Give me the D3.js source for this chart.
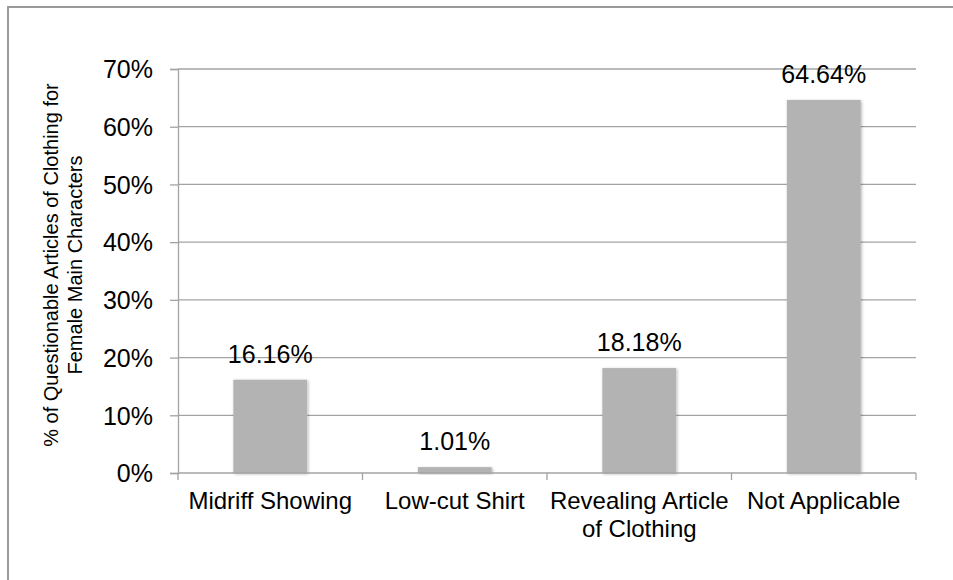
<!DOCTYPE html>
<html>
<head>
<meta charset="utf-8">
<script src="https://cdn.jsdelivr.net/npm/d3@7"></script>
<style>
  html, body { margin: 0; padding: 0; background: #fff; overflow: hidden; }
  svg { display: block; font-family: "Liberation Sans", Arial, Helvetica, sans-serif; }
</style>
</head>
<body>
<script>
// chart data
const categories = [["Midriff Showing"], ["Low-cut Shirt"], ["Revealing Article", "of Clothing"], ["Not Applicable"]];
const values = [16.16, 1.01, 18.18, 64.64];
const yTicks = [0, 10, 20, 30, 40, 50, 60, 70];
const yTitle = ["% of Questionable Articles of Clothing for", "Female Main Characters"];

document.addEventListener('DOMContentLoaded', function() {
  const W = 953, H = 580;
  const margin = {top: 69, right: 37, bottom: 107, left: 178};
  const width = W - margin.left - margin.right,
        height = H - margin.top - margin.bottom;

  const svg = d3.select('body').append('svg')
      .attr('width', W)
      .attr('height', H);

  // soft shadow for bars
  const defs = svg.append('defs');
  const f = defs.append('filter').attr('id', 'shadow')
      .attr('x', '-20%').attr('y', '-20%').attr('width', '140%').attr('height', '140%');
  f.append('feDropShadow').attr('dx', 1).attr('dy', 1).attr('stdDeviation', 1.5)
      .attr('flood-color', '#000').attr('flood-opacity', 0.3);

  // chart frame (only top/left visible, rest cropped)
  svg.append('rect')
      .attr('x', 8).attr('y', 7)
      .attr('width', W + 20).attr('height', H + 20)
      .attr('fill', 'none').attr('stroke', '#9a9a9a').attr('stroke-width', 2);

  const g = svg.append('g').attr('transform', `translate(${margin.left},${margin.top})`);

  const idx = d3.range(values.length);
  const x = d3.scaleBand().domain(idx).range([0, width]).paddingInner(0.6).paddingOuter(0.3);
  const y = d3.scaleLinear().domain([0, 70]).range([height, 0]);

  // gridlines
  g.append('g').selectAll('line').data(yTicks.filter(d => d > 0)).join('line')
      .attr('x1', 0).attr('x2', width)
      .attr('y1', d => y(d)).attr('y2', d => y(d))
      .attr('stroke', '#a3a3a3').attr('stroke-width', 1.3);

  // y axis
  const yAxis = g.append('g')
      .call(d3.axisLeft(y).tickValues(yTicks).tickFormat(d => d + '%').tickSize(8).tickPadding(17));
  yAxis.select('.domain').attr('stroke', '#a3a3a3').attr('stroke-width', 1.3);
  yAxis.selectAll('.tick line').attr('stroke', '#a3a3a3').attr('stroke-width', 1.3);
  yAxis.selectAll('.tick text').attr('font-size', 25).attr('fill', '#000')
      .attr('font-family', '"Liberation Sans", Arial, sans-serif').attr('dy', '0.35em');

  // bars
  g.append('g').selectAll('rect').data(values).join('rect')
      .attr('x', (d, i) => x(i))
      .attr('y', d => y(d))
      .attr('width', x.bandwidth())
      .attr('height', d => height - y(d))
      .attr('fill', '#b3b3b3')
      .attr('filter', 'url(#shadow)');

  // data labels
  g.append('g').selectAll('text').data(values).join('text')
      .attr('x', (d, i) => x(i) + x.bandwidth() / 2)
      .attr('y', d => y(d) - 17)
      .attr('text-anchor', 'middle')
      .attr('font-size', 25)
      .attr('fill', '#000')
      .text(d => d.toFixed(2) + '%');

  // x axis
  const step = x.step();
  const xAxis = g.append('g').attr('transform', `translate(0,${height})`);
  xAxis.append('line').attr('x1', 0).attr('x2', width).attr('y1', 0).attr('y2', 0)
      .attr('stroke', '#a3a3a3').attr('stroke-width', 1.3);
  xAxis.selectAll('.xtick').data(d3.range(values.length + 1)).join('line')
      .attr('class', 'xtick')
      .attr('x1', d => d * step).attr('x2', d => d * step)
      .attr('y1', 0).attr('y2', 7)
      .attr('stroke', '#a3a3a3').attr('stroke-width', 1.3);
  const lab = xAxis.selectAll('.xlab').data(categories).join('text')
      .attr('class', 'xlab')
      .attr('text-anchor', 'middle')
      .attr('font-size', 24)
      .attr('fill', '#000')
      .attr('transform', (d, i) => `translate(${x(i) + x.bandwidth() / 2},36)`);
  lab.selectAll('tspan').data(d => d).join('tspan')
      .attr('x', 0).attr('dy', (d, i) => i === 0 ? 0 : 28)
      .text(d => d);

  // y axis title
  const t = svg.append('text')
      .attr('transform', `translate(58,265) rotate(-90)`)
      .attr('text-anchor', 'middle')
      .attr('font-size', 20)
      .attr('fill', '#000');
  t.selectAll('tspan').data(yTitle).join('tspan')
      .attr('x', 0).attr('dy', (d, i) => i === 0 ? 0 : 24)
      .text(d => d);
});
</script>
</body>
</html>
